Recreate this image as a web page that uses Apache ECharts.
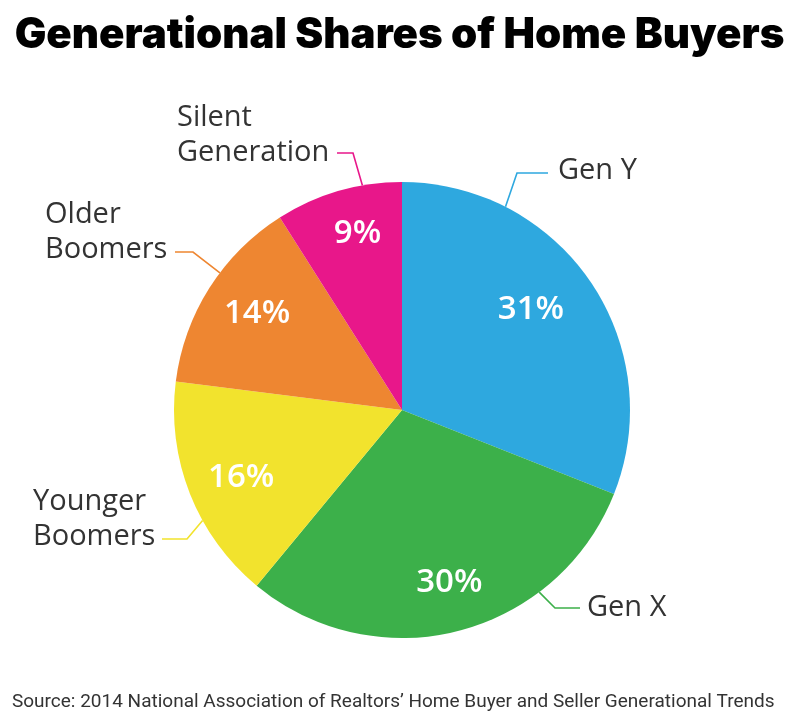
<!DOCTYPE html>
<html>
<head>
<meta charset="utf-8">
<script src="https://cdn.jsdelivr.net/npm/echarts@6/dist/echarts.min.js"></script>
<style>
html,body{margin:0;padding:0;background:#fff;}
#main{width:799px;height:723px;}
</style>
</head>
<body>
<div id="main"></div>
<script>
// ---- data ----
const categories = ['Gen Y', 'Gen X', 'Younger Boomers', 'Older Boomers', 'Silent Generation'];
const labelNames = ['Gen Y', 'Gen X', 'Younger\nBoomers', 'Older\nBoomers', 'Silent\nGeneration'];
const shares = [31, 30, 16, 14, 9];
const titleText = 'Generational Shares of Home Buyers';
const sourceText = 'Source: 2014 National Association of Realtors\u2019 Home Buyer and Seller Generational Trends';

// ---- style / layout ----
const colors = ['#2ea8df', '#3cb04a', '#f2e32d', '#ee8631', '#e8178a'];
const CX = 402, CY = 410, R = 228;
// name label layout: anchor angle on rim (deg), text position, line elbow/end
const nameLayout = [
  { ang: 63,   x: 558, y: 171, vAlign: 'middle', elbow: [517, 173], end: [548, 173] },
  { ang: -53,  x: 587, y: 608, vAlign: 'middle', elbow: [555, 608], end: [580, 608] },
  { ang: 209,  x: 33,  y: 554, vAlign: 'bottom', elbow: [187, 539], end: [162, 539] },
  { ang: 143,  x: 45,  y: 267, vAlign: 'bottom', elbow: [193, 252], end: [175, 252] },
  { ang: 100,  x: 177, y: 170, vAlign: 'bottom', elbow: [353, 153], end: [337, 153] }
];
const pctShift = [[-15, -3], [4, 4], [1, 4], [2, -3], [4, -9]];

const chart = echarts.init(document.getElementById('main'), null, { renderer: 'canvas' });

const baseData = categories.map((c, i) => ({
  name: c,
  value: shares[i],
  itemStyle: { color: colors[i] }
}));

const option = {
  animation: false,
  title: [
    {
      text: titleText,
      left: 'center',
      top: 9,
      textStyle: { fontFamily: 'Inter', fontWeight: 900, fontSize: 42, color: '#000' }
    },
    {
      text: sourceText,
      left: 7,
      top: 688,
      textStyle: { fontFamily: 'Roboto', fontWeight: 400, fontSize: 19, color: '#333' }
    }
  ],
  series: [
    {
      type: 'pie',
      center: [CX, CY],
      radius: [0, R],
      startAngle: 90,
      clockwise: true,
      silent: true,
      avoidLabelOverlap: false,
      data: baseData.map((d, i) => Object.assign({}, d, {
        label: { formatter: labelNames[i] }
      })),
      label: {
        show: true,
        position: 'outside',
        fontFamily: 'Open Sans',
        fontWeight: 400,
        fontSize: 29,
        lineHeight: 35,
        color: '#333'
      },
      labelLine: { show: true, lineStyle: { width: 1.6 } },
      labelLayout: function (params) {
        const L = nameLayout[params.dataIndex];
        const a = L.ang * Math.PI / 180;
        const sx = CX + R * Math.cos(a);
        const sy = CY - R * Math.sin(a);
        return {
          x: L.x, y: L.y, align: 'left', verticalAlign: L.vAlign,
          labelLinePoints: [[sx, sy], L.elbow, L.end]
        };
      }
    },
    {
      type: 'pie',
      center: [CX, CY],
      radius: [114, R],
      startAngle: 90,
      clockwise: true,
      silent: true,
      data: baseData.map(d => Object.assign({}, d, { itemStyle: { color: 'rgba(0,0,0,0)' } })),
      label: {
        show: true,
        position: 'inside',
        formatter: '{c}%',
        fontFamily: 'Open Sans',
        fontWeight: 600,
        fontSize: 33,
        color: '#fff'
      },
      labelLine: { show: false },
      labelLayout: function (params) {
        const s = pctShift[params.dataIndex];
        return { dx: s[0], dy: s[1] };
      }
    }
  ]
};
chart.setOption(option);
</script>
</body>
</html>
